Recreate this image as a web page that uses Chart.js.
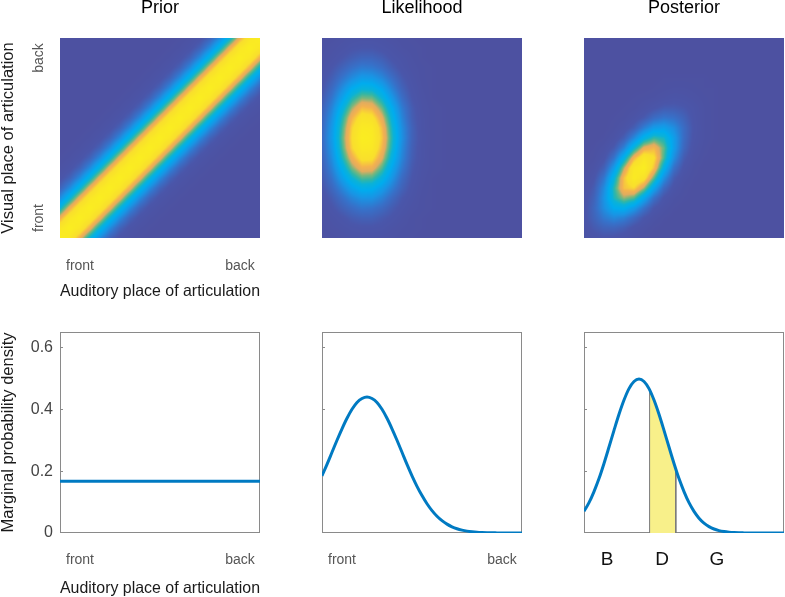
<!DOCTYPE html>
<html>
<head>
<meta charset="utf-8">
<title>Prior, likelihood and posterior</title>
<script src="https://cdn.jsdelivr.net/npm/chart.js"></script>
<style>
  body { margin: 0; background: #fff; }
  #wrap { position: relative; width: 785px; height: 597px; }
  canvas { position: absolute; }
</style>
</head>
<body>
<div id="wrap">
  <canvas id="hPrior" width="270" height="300" style="left:0;top:0"></canvas>
  <canvas id="hLike" width="270" height="300" style="left:270px;top:0"></canvas>
  <canvas id="hPost" width="245" height="300" style="left:540px;top:0"></canvas>
  <canvas id="mPrior" width="270" height="297" style="left:0;top:300px"></canvas>
  <canvas id="mLike" width="270" height="297" style="left:270px;top:300px"></canvas>
  <canvas id="mPost" width="245" height="297" style="left:540px;top:300px"></canvas>
</div>

<script>
// --- data ---------------------------------------------------------------
var panelTitles = ['Prior', 'Likelihood', 'Posterior'];
var placeTicks = [0.1, 0.9];
var placeLabels = ['front', 'back'];
var phonemeTicks = [0.115, 0.39, 0.665];
var phonemeLabels = ['B', 'D', 'G'];
var densityTicks = [0, 0.2, 0.4, 0.6];

// auditory place (0 = front, 1 = back)
var xGrid = [0, 0.025, 0.05, 0.075, 0.1, 0.125, 0.15, 0.175, 0.2, 0.225, 0.25, 0.275, 0.3, 0.325,
  0.35, 0.375, 0.4, 0.425, 0.45, 0.475, 0.5, 0.525, 0.55, 0.575, 0.6, 0.625, 0.65, 0.675, 0.7,
  0.725, 0.75, 0.775, 0.8, 0.825, 0.85, 0.875, 0.9, 0.925, 0.95, 0.975, 1];

var priorMarginal = [0.167, 0.167, 0.167, 0.167, 0.167, 0.167, 0.167, 0.167, 0.167, 0.167, 0.167,
  0.167, 0.167, 0.167, 0.167, 0.167, 0.167, 0.167, 0.167, 0.167, 0.167, 0.167, 0.167, 0.167, 0.167,
  0.167, 0.167, 0.167, 0.167, 0.167, 0.167, 0.167, 0.167, 0.167, 0.167, 0.167, 0.167, 0.167, 0.167,
  0.167, 0.167];

var likelihoodMarginal = [0.185, 0.222, 0.261, 0.300, 0.337, 0.371, 0.400, 0.422, 0.435, 0.440,
  0.435, 0.422, 0.400, 0.371, 0.337, 0.300, 0.261, 0.222, 0.185, 0.151, 0.121, 0.0945, 0.0723,
  0.0542, 0.0398, 0.0286, 0.0201, 0.0138, 0.0093, 0.0061, 0.0040, 0.0025, 0.0016, 0.0010, 0.0006,
  0.0004, 0.0002, 0.0001, 0.0001, 0, 0];

var posteriorMarginal = [0.070, 0.098, 0.134, 0.176, 0.225, 0.278, 0.332, 0.384, 0.430, 0.467,
  0.490, 0.498, 0.490, 0.467, 0.430, 0.384, 0.332, 0.278, 0.225, 0.176, 0.134, 0.098, 0.070,
  0.048, 0.032, 0.0207, 0.0129, 0.0078, 0.0046, 0.0026, 0.0014, 0.0007, 0.0004, 0.0002, 0.0001,
  0, 0, 0, 0, 0, 0];

// shaded "D" region of the posterior
var dRegion = [0.328, 0.459];
var dRegionEdge = [0.455, 0.205];

// heat map nodes, both axes; rows below run from back (top) to front (bottom)
var gridPos = [0, 0.05, 0.1, 0.15, 0.2, 0.25, 0.3, 0.35, 0.4, 0.45, 0.5, 0.55, 0.6, 0.65, 0.7,
  0.75, 0.8, 0.85, 0.9, 0.95, 1];

var priorGrid = [
  [0,0,0,0,0,0,0,0,0,0,0,0,1,3,7,16,31,51,74,93,100],
  [0,0,0,0,0,0,0,0,0,0,0,1,3,7,16,31,51,74,93,100,93],
  [0,0,0,0,0,0,0,0,0,0,1,3,7,16,31,51,74,93,100,93,74],
  [0,0,0,0,0,0,0,0,0,1,3,7,16,31,51,74,93,100,93,74,51],
  [0,0,0,0,0,0,0,0,1,3,7,16,31,51,74,93,100,93,74,51,31],
  [0,0,0,0,0,0,0,1,3,7,16,31,51,74,93,100,93,74,51,31,16],
  [0,0,0,0,0,0,1,3,7,16,31,51,74,93,100,93,74,51,31,16,7],
  [0,0,0,0,0,1,3,7,16,31,51,74,93,100,93,74,51,31,16,7,3],
  [0,0,0,0,1,3,7,16,31,51,74,93,100,93,74,51,31,16,7,3,1],
  [0,0,0,1,3,7,16,31,51,74,93,100,93,74,51,31,16,7,3,1,0],
  [0,0,1,3,7,16,31,51,74,93,100,93,74,51,31,16,7,3,1,0,0],
  [0,1,3,7,16,31,51,74,93,100,93,74,51,31,16,7,3,1,0,0,0],
  [1,3,7,16,31,51,74,93,100,93,74,51,31,16,7,3,1,0,0,0,0],
  [3,7,16,31,51,74,93,100,93,74,51,31,16,7,3,1,0,0,0,0,0],
  [7,16,31,51,74,93,100,93,74,51,31,16,7,3,1,0,0,0,0,0,0],
  [16,31,51,74,93,100,93,74,51,31,16,7,3,1,0,0,0,0,0,0,0],
  [31,51,74,93,100,93,74,51,31,16,7,3,1,0,0,0,0,0,0,0,0],
  [51,74,93,100,93,74,51,31,16,7,3,1,0,0,0,0,0,0,0,0,0],
  [74,93,100,93,74,51,31,16,7,3,1,0,0,0,0,0,0,0,0,0,0],
  [93,100,93,74,51,31,16,7,3,1,0,0,0,0,0,0,0,0,0,0,0],
  [100,93,74,51,31,16,7,3,1,0,0,0,0,0,0,0,0,0,0,0,0]
];

var likelihoodGrid = [
  [1,2,4,5,6,6,5,3,2,1,0,0,0,0,0,0,0,0,0,0,0],
  [2,4,6,9,10,10,8,6,3,2,1,0,0,0,0,0,0,0,0,0,0],
  [3,6,10,14,17,17,14,9,6,3,1,0,0,0,0,0,0,0,0,0,0],
  [5,10,16,22,26,25,21,14,8,4,2,1,0,0,0,0,0,0,0,0,0],
  [7,14,23,31,37,36,30,21,12,6,2,1,0,0,0,0,0,0,0,0,0],
  [9,19,31,43,50,49,41,28,16,8,3,1,0,0,0,0,0,0,0,0,0],
  [12,24,39,55,64,63,52,36,21,10,4,1,0,0,0,0,0,0,0,0,0],
  [15,29,48,66,78,76,63,44,26,13,5,2,1,0,0,0,0,0,0,0,0],
  [17,33,55,76,89,87,72,50,29,14,6,2,1,0,0,0,0,0,0,0,0],
  [18,36,59,82,96,95,78,54,32,16,6,2,1,0,0,0,0,0,0,0,0],
  [19,37,61,84,99,97,80,56,33,16,7,2,1,0,0,0,0,0,0,0,0],
  [18,35,59,82,95,94,77,54,31,15,6,2,1,0,0,0,0,0,0,0,0],
  [16,32,54,74,87,86,71,49,29,14,6,2,1,0,0,0,0,0,0,0,0],
  [14,28,46,64,75,74,61,42,25,12,5,2,1,0,0,0,0,0,0,0,0],
  [12,23,38,52,61,60,50,35,20,10,4,1,0,0,0,0,0,0,0,0,0],
  [9,18,29,40,47,46,38,27,16,8,3,1,0,0,0,0,0,0,0,0,0],
  [6,13,21,29,34,34,28,19,11,6,2,1,0,0,0,0,0,0,0,0,0],
  [4,9,15,20,24,23,19,13,8,4,2,1,0,0,0,0,0,0,0,0,0],
  [3,6,9,13,15,15,12,9,5,2,1,0,0,0,0,0,0,0,0,0,0],
  [2,4,6,8,9,9,8,5,3,2,1,0,0,0,0,0,0,0,0,0,0],
  [1,2,3,5,5,5,4,3,2,1,0,0,0,0,0,0,0,0,0,0,0]
];

var posteriorGrid = [
  [0,0,0,0,0,0,0,0,0,0,0,0,0,0,0,0,0,0,0,0,0],
  [0,0,0,0,0,0,0,0,0,0,0,0,0,0,0,0,0,0,0,0,0],
  [0,0,0,0,0,0,0,0,0,0,0,0,0,0,0,0,0,0,0,0,0],
  [0,0,0,0,0,0,0,0,0,0,0,0,0,0,0,0,0,0,0,0,0],
  [0,0,0,0,0,0,0,0,1,1,1,1,1,0,0,0,0,0,0,0,0],
  [0,0,0,0,0,0,0,1,2,3,3,2,1,1,0,0,0,0,0,0,0],
  [0,0,0,0,0,1,2,3,5,7,6,4,2,1,0,0,0,0,0,0,0],
  [0,0,0,0,1,2,5,9,13,13,11,7,3,1,0,0,0,0,0,0,0],
  [0,0,0,1,2,6,12,20,24,22,16,8,3,1,0,0,0,0,0,0,0],
  [0,0,0,2,6,14,27,37,39,32,20,9,3,1,0,0,0,0,0,0,0],
  [0,0,1,5,14,30,48,58,54,38,20,8,3,1,0,0,0,0,0,0,0],
  [0,1,4,12,28,52,72,77,62,38,18,6,2,0,0,0,0,0,0,0,0],
  [0,2,8,23,48,76,92,85,60,32,13,4,1,0,0,0,0,0,0,0,0],
  [1,5,15,37,67,93,99,79,48,22,8,2,0,0,0,0,0,0,0,0,0],
  [2,9,24,50,79,96,88,62,33,13,4,1,0,0,0,0,0,0,0,0,0],
  [4,13,31,57,79,83,67,41,19,7,2,0,0,0,0,0,0,0,0,0,0],
  [6,16,34,55,66,61,42,22,9,3,1,0,0,0,0,0,0,0,0,0,0],
  [7,18,32,44,46,37,23,10,4,1,0,0,0,0,0,0,0,0,0,0,0],
  [8,16,25,30,27,19,10,4,1,0,0,0,0,0,0,0,0,0,0,0,0],
  [6,12,16,17,14,8,4,1,0,0,0,0,0,0,0,0,0,0,0,0,0],
  [5,7,9,8,6,3,1,0,0,0,0,0,0,0,0,0,0,0,0,0,0]
];

// --- styling ----------------------------------------------------------------
var FONT = '"Liberation Sans", Arial, Helvetica, sans-serif';
var LINE_BLUE = 'rgb(0,122,194)';
var FRAME_GREY = '#8a8a8a';

// colour ramp of the heat maps: [level, r, g, b]
var ramp = [
  [0, 77, 81, 161], [10, 74, 86, 170], [22, 55, 112, 200], [34, 25, 148, 228],
  [44, 0, 172, 238], [52, 10, 178, 215], [58, 50, 182, 165], [64, 120, 182, 125],
  [70, 225, 172, 95], [76, 244, 178, 78], [84, 249, 222, 45], [100, 250, 238, 32]
];

function rampColour(v) {
  if (v <= ramp[0][0]) return ramp[0].slice(1);
  for (var k = 1; k < ramp.length; k++) {
    if (v <= ramp[k][0]) {
      var a = ramp[k - 1], b = ramp[k], t = (v - a[0]) / (b[0] - a[0]);
      return [a[1] + t * (b[1] - a[1]), a[2] + t * (b[2] - a[2]), a[3] + t * (b[3] - a[3])];
    }
  }
  return ramp[ramp.length - 1].slice(1);
}

// paints a grid into the chart area, looking every pixel up through the scales
function heatmapPlugin(grid) {
  return {
    id: 'heatmap',
    beforeDatasetsDraw: function (chart) {
      var a = chart.chartArea, xs = chart.scales.x, ys = chart.scales.y;
      var w = Math.round(a.right - a.left), h = Math.round(a.bottom - a.top);
      var off = document.createElement('canvas');
      off.width = w; off.height = h;
      var octx = off.getContext('2d');
      var img = octx.createImageData(w, h);
      var n = gridPos.length, step = gridPos[1] - gridPos[0];
      for (var py = 0; py < h; py++) {
        var v = ys.getValueForPixel(a.top + py + 0.5);
        var fr = Math.min(Math.max((gridPos[n - 1] - v) / step, 0), n - 1);
        var r0 = Math.min(Math.floor(fr), n - 2), tr = fr - r0;
        for (var px = 0; px < w; px++) {
          var u = xs.getValueForPixel(a.left + px + 0.5);
          var fc = Math.min(Math.max((u - gridPos[0]) / step, 0), n - 1);
          var c0 = Math.min(Math.floor(fc), n - 2), tc = fc - c0;
          var val = (grid[r0][c0] * (1 - tc) + grid[r0][c0 + 1] * tc) * (1 - tr) +
                    (grid[r0 + 1][c0] * (1 - tc) + grid[r0 + 1][c0 + 1] * tc) * tr;
          var col = rampColour(val), p = (py * w + px) * 4;
          img.data[p] = col[0]; img.data[p + 1] = col[1]; img.data[p + 2] = col[2]; img.data[p + 3] = 255;
        }
      }
      octx.putImageData(img, 0, 0);
      chart.ctx.drawImage(off, a.left, a.top);
    }
  };
}

// box round the marginal plots and the little inward ticks on the left
var framePlugin = {
  id: 'frame',
  beforeDatasetsDraw: function (chart) {
    var ctx = chart.ctx, a = chart.chartArea, ys = chart.scales.y;
    ctx.save();
    ctx.strokeStyle = FRAME_GREY;
    ctx.lineWidth = 1;
    ctx.strokeRect(a.left + 0.5, a.top + 0.5, a.right - a.left - 1, a.bottom - a.top - 1);
    ys.ticks.forEach(function (t) {
      if (t.value <= 0) return;
      var y = Math.round(ys.getPixelForValue(t.value)) + 0.5;
      ctx.beginPath();
      ctx.moveTo(a.left, y);
      ctx.lineTo(a.left + 3, y);
      ctx.stroke();
    });
    ctx.restore();
  }
};

function points(xs, ys) {
  return xs.map(function (x, i) { return {x: x, y: ys[i]}; });
}

function fixedTicks(vals) {
  return function (s) { s.ticks = vals.map(function (v) { return {value: v}; }); };
}

// fixed axis size, and no extra room for labels hanging over the ends
function fixSize(prop, size) {
  return function (s) {
    s[prop] = size;
    s.paddingLeft = 0; s.paddingRight = 0; s.paddingTop = 0; s.paddingBottom = 0;
  };
}

function titleOpts(text) {
  return {
    display: true, text: text, fullSize: false, color: '#000',
    font: {family: FONT, size: 18, weight: 'normal', lineHeight: 0.9},
    padding: {top: 0, bottom: 21.8}
  };
}

function axisTitle(text, pad, show) {
  return {display: show, text: text, color: '#1a1a1a',
    font: {family: FONT, size: 16.5, lineHeight: 1}, padding: {top: pad, bottom: 0}};
}

var noLines = {display: false, drawTicks: false};

function heatChart(id, grid, title, pad, withAxes) {
  var scales = {
    x: {type: 'linear', min: 0, max: 1, display: withAxes,
      afterBuildTicks: fixedTicks(placeTicks),
      afterFit: fixSize('height', withAxes ? 62 : 0),
      grid: noLines, border: {display: false},
      ticks: {padding: 20, color: '#555', font: {family: FONT, size: 14},
        callback: function (v) { return placeLabels[placeTicks.indexOf(v)]; }},
      title: axisTitle('Auditory place of articulation', 0, true)},
    y: {type: 'linear', min: 0, max: 1, display: withAxes,
      afterBuildTicks: fixedTicks(placeTicks),
      afterFit: fixSize('width', withAxes ? 60 : 0),
      grid: noLines, border: {display: false},
      ticks: {padding: 6, minRotation: 90, maxRotation: 90, crossAlign: 'center', color: '#555',
        font: {family: FONT, size: 14},
        callback: function (v) { return placeLabels[placeTicks.indexOf(v)]; }},
      title: axisTitle('Visual place of articulation', 0, true)}
  };
  return new Chart(document.getElementById(id), {
    type: 'scatter',
    data: {datasets: []},
    options: {
      responsive: false, animation: false, events: [],
      layout: {padding: pad},
      plugins: {legend: {display: false}, tooltip: {enabled: false}, title: titleOpts(title)},
      scales: scales
    },
    plugins: [heatmapPlugin(grid)]
  });
}

function marginalChart(id, datasets, pad, showY, xTicks, xLabels, xFont) {
  return new Chart(document.getElementById(id), {
    type: 'line',
    data: {datasets: datasets},
    options: {
      responsive: false, animation: false, events: [],
      layout: {padding: pad},
      plugins: {legend: {display: false}, tooltip: {enabled: false}},
      scales: {
        x: {type: 'linear', min: 0, max: 1,
          afterBuildTicks: fixedTicks(xTicks),
          afterFit: fixSize('height', 64),
          grid: noLines, border: {display: false},
          ticks: {padding: xFont.pad, color: xFont.color, font: {family: FONT, size: xFont.size},
            callback: function (v) { return xLabels[xTicks.indexOf(v)]; }},
          title: axisTitle('Auditory place of articulation', 2.75, showY)},
        y: {type: 'linear', min: 0, max: 0.65,
          afterBuildTicks: fixedTicks(densityTicks),
          afterFit: fixSize('width', showY ? 60 : 0),
          grid: noLines, border: {display: false},
          ticks: {display: showY, padding: 7, color: '#444', font: {family: FONT, size: 16},
            callback: function (v) { return String(v); }},
          title: {display: showY, text: 'Marginal probability density', color: '#1a1a1a',
            font: {family: FONT, size: 16.5, lineHeight: 1}, padding: {top: 0, bottom: 0}}}
      }
    },
    plugins: [framePlugin]
  });
}

function curve(values) {
  return {data: points(xGrid, values), borderColor: LINE_BLUE, borderWidth: 3,
    pointRadius: 0, fill: false, cubicInterpolationMode: 'monotone', order: 0};
}

// the D band under the posterior curve
var shade = [{x: dRegion[0], y: 0}, {x: dRegion[0], y: dRegionEdge[0]}];
xGrid.forEach(function (x, i) {
  if (x > dRegion[0] && x < dRegion[1]) shade.push({x: x, y: posteriorMarginal[i]});
});
shade.push({x: dRegion[1], y: dRegionEdge[1]}, {x: dRegion[1], y: 0});

var placeFont = {size: 14, color: '#555', pad: 19};
var phonemeFont = {size: 19, color: '#111', pad: 15};

heatChart('hPrior', priorGrid, panelTitles[0], {top: 0, left: 0, right: 10, bottom: 0}, true);
heatChart('hLike', likelihoodGrid, panelTitles[1], {top: 0, left: 52, right: 18, bottom: 62}, false);
heatChart('hPost', posteriorGrid, panelTitles[2], {top: 0, left: 44, right: 1, bottom: 62}, false);

marginalChart('mPrior', [curve(priorMarginal)], {top: 32, left: 0, right: 10, bottom: 0},
  true, placeTicks, placeLabels, placeFont);
marginalChart('mLike', [curve(likelihoodMarginal)], {top: 32, left: 52, right: 18, bottom: 0},
  false, placeTicks, placeLabels, placeFont);
marginalChart('mPost', [
  curve(posteriorMarginal),
  {data: shade, borderColor: '#7a7a7a', borderWidth: 1, backgroundColor: 'rgb(248,240,138)',
    pointRadius: 0, fill: 'origin', tension: 0, order: 1}
], {top: 32, left: 44, right: 1, bottom: 0}, false, phonemeTicks, phonemeLabels, phonemeFont);
</script>
</body>
</html>
